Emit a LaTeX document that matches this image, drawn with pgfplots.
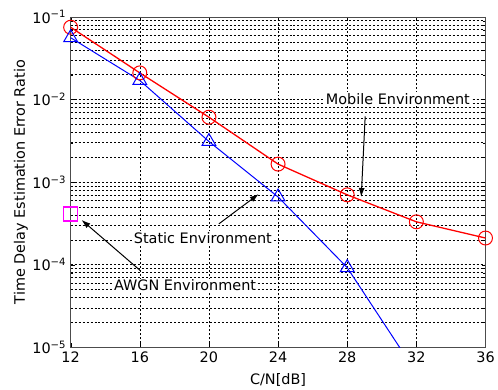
\documentclass[border=0pt]{standalone}
\usepackage{pgfplots}
\pgfplotsset{compat=1.18}
\usepackage{fontspec}
\setmainfont{DejaVu Sans}
\usetikzlibrary{arrows.meta}
\definecolor{mag}{RGB}{255,0,255}
\begin{document}
\begin{tikzpicture}
\begin{axis}[
  name=ax, set layers,
  scale only axis, width=417pt, height=332pt,
  xmin=12, xmax=36, ymin=1e-5, ymax=1e-1, ymode=log,
  xtick={12,16,20,24,28,32,36},
  ytick={1e-5,1e-4,1e-3,1e-2,1e-1},
  yticklabels={10\textsuperscript{−5},10\textsuperscript{−4},10\textsuperscript{−3},10\textsuperscript{−2},10\textsuperscript{−1}},
  grid=both,
  major grid style={black, dash pattern=on 2pt off 2pt, line width=0.5pt},
  minor grid style={black, dash pattern=on 2pt off 2pt, line width=0.5pt},
  tick align=inside,
  axis line style={black!70, line width=0.8pt},
  tick style={black},
  major tick length=4pt, minor tick length=2.5pt,
  xlabel={C/N[dB]}, ylabel={Time Delay Estimation Error Ratio},
  every axis y label/.style={at={(axis description cs:-0.12,0.5)}, rotate=90, anchor=center},
  every axis x label/.style={at={(axis description cs:0.5,-0.1)}, anchor=center},
  label style={font=\fontsize{14.5}{16}\selectfont},
  tick label style={font=\fontsize{14.5}{16}\selectfont},
  yticklabel style={xshift=-1pt},
  xticklabel style={yshift=-1pt},
  /pgf/number format/assume math mode=true,
]
\addplot[red, line width=1.3pt, mark=o, mark size=7pt, mark options={line width=1pt}] coordinates {
 (12,0.075) (16,0.021) (20,0.0061) (24,0.00165) (28,0.0007) (32,0.00033) (36,0.00021)};
\addplot[blue, line width=1pt, mark=triangle, mark size=8pt, mark indices={1,2,3,4,5}, mark options={line width=1pt}] coordinates {
 (12,0.056) (16,0.017) (20,0.0031) (24,0.00066) (28,0.000092) (32,0.0000049)};
\addplot[draw=mag, only marks, mark=square, mark size=7pt, mark options={draw=mag, fill=none, line width=1.2pt}, on layer=axis foreground] coordinates {(12,0.00041)};

\node[fill=white, inner sep=1pt, font=\fontsize{14.5}{16}\selectfont] at (axis cs:30.93,0.0102) {Mobile Environment};
\node[fill=white, inner sep=1pt, font=\fontsize{14.5}{16}\selectfont] at (axis cs:19.65,0.000211) {Static Environment};
\node[fill=white, inner sep=1pt, font=\fontsize{14.5}{16}\selectfont] at (axis cs:18.62,0.0000558) {AWGN Environment};
\draw[-{Latex[length=9pt,width=6pt]}, line width=1pt] (axis cs:29.04,0.00624) -- (axis cs:28.81,0.00066);
\draw[-{Latex[length=9pt,width=6pt]}, line width=1pt] (axis cs:20.58,0.000312) -- (axis cs:22.88,0.000716);
\draw[-{Latex[length=9pt,width=6pt]}, line width=1pt] (axis cs:16.03,0.0000847) -- (axis cs:12.63,0.000348);
\end{axis}
\path ([xshift=-71pt,yshift=-40pt]ax.south west) rectangle ([xshift=10pt,yshift=17pt]ax.north east);
\end{tikzpicture}
\end{document}
